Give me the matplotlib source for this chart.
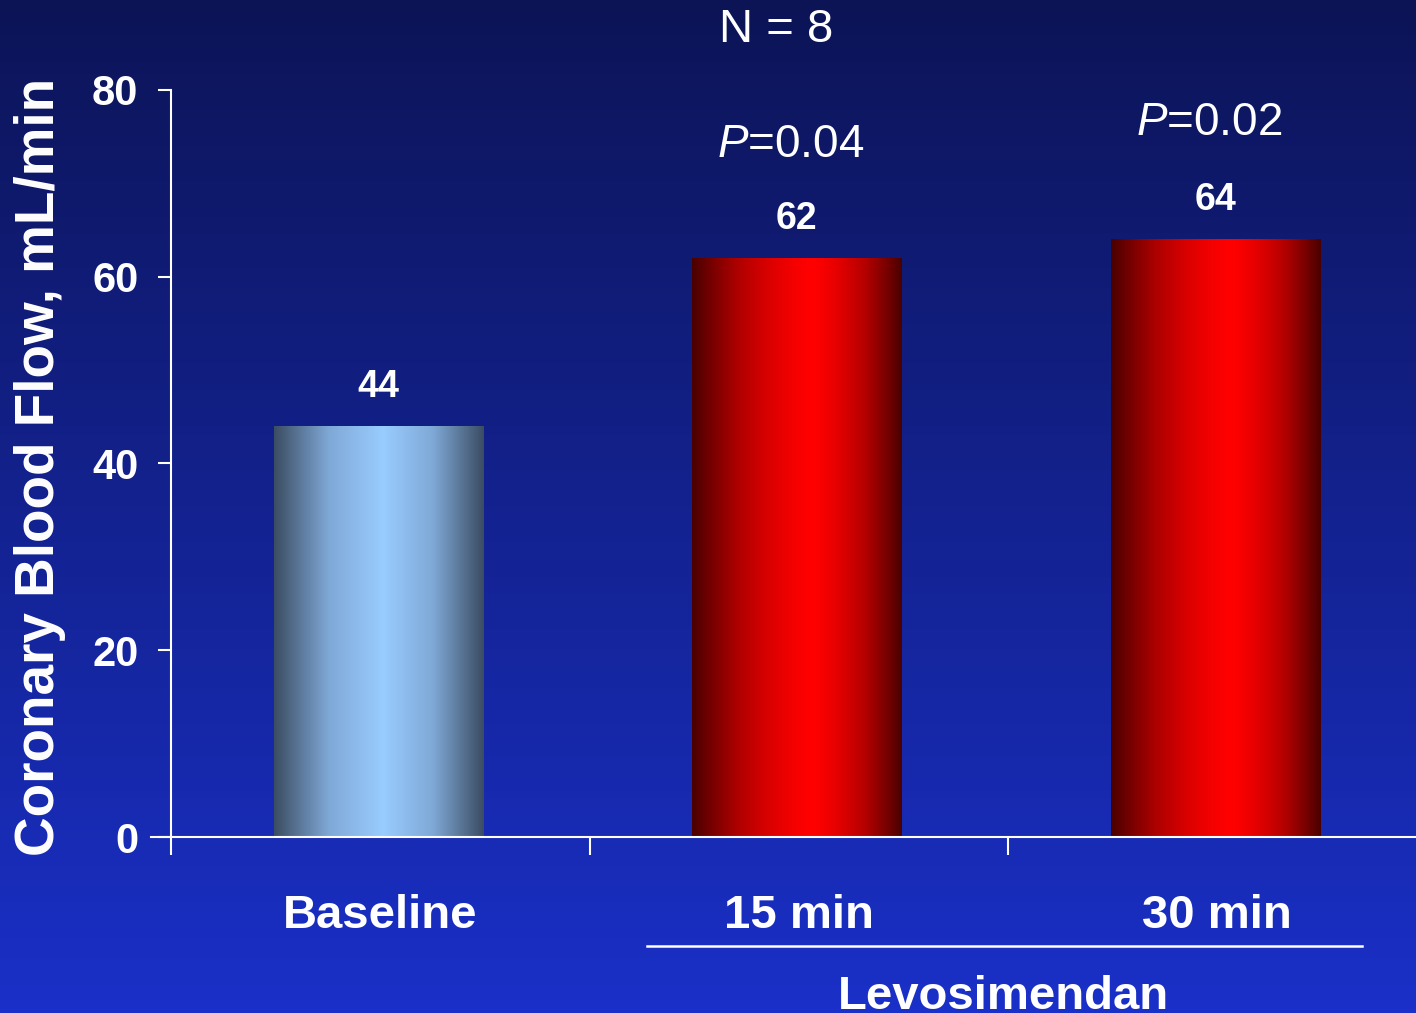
import numpy as np
import matplotlib.pyplot as plt
from matplotlib.colors import LinearSegmentedColormap
from matplotlib.lines import Line2D

plt.rcParams['font.family'] = ['Liberation Sans', 'DejaVu Sans']
plt.rcParams['mathtext.fontset'] = 'custom'
plt.rcParams['mathtext.it'] = 'Liberation Sans:italic'

categories = ['Baseline', '15 min', '30 min']
flow = [44, 62, 64]
value_labels = ['44', '62', '64']
p_values = ['0.04', '0.02']
yticks = [0, 20, 40, 60, 80]


def shade_profile(n=400, peak=0.55, power=1.0):
    # cylinder-like horizontal shading: dark at edges, bright near peak
    x = np.linspace(0, 1, n)
    d = np.where(x < peak, (peak - x) / peak, (x - peak) / (1 - peak))
    return 1 - d ** power


fig = plt.figure(figsize=(14.16, 10.13), dpi=100)

# background gradient, dark navy at the top to bright blue at the bottom
bg = fig.add_axes([0, 0, 1, 1], zorder=-10)
bg_cmap = LinearSegmentedColormap.from_list('bg', ['#1a30c8', '#0c1456'])
bg.imshow(np.linspace(0, 1, 256)[:, None] * np.ones((1, 2)), aspect='auto',
          cmap=bg_cmap, extent=[0, 1, 0, 1], origin='lower', vmin=0, vmax=1)
bg.set_axis_off()

ax = fig.add_axes([171 / 1416, 176 / 1013, 1255.5 / 1416, 747 / 1013])
ax.patch.set_visible(False)

blue_cmap = LinearSegmentedColormap.from_list('bl', ['#3b4d63', '#7fa8d6', '#99ccff'])
red_cmap = LinearSegmentedColormap.from_list('rd', ['#4a0000', '#b00000', '#ff0000'])

width = 0.5
x = np.arange(len(categories)) - 0.005
bars = ax.bar(x, flow, width=width, color='none', edgecolor='none')
for i, (b, v) in enumerate(zip(bars, flow)):
    cmap = blue_cmap if i == 0 else red_cmap
    peak = 0.52 if i == 0 else 0.57
    power = 1.0 if i == 0 else 1.4
    grad = shade_profile(peak=peak, power=power)[None, :]
    x0 = b.get_x()
    ax.imshow(grad, aspect='auto', cmap=cmap, vmin=0, vmax=1,
              extent=[x0, x0 + width, 0, v], origin='lower', zorder=2)
    ax.text(b.get_x() + width / 2, v + 4.2, value_labels[i], ha='center', va='center',
            color='white', fontsize=27, fontweight='bold')

ax.set_xlim(-0.5, 2.5)
ax.set_ylim(0, 80)
ax.set_yticks(yticks)
ax.set_yticklabels([str(t) for t in yticks], fontsize=30, fontweight='bold', color='white')
ax.set_xticks(np.arange(len(categories)))
ax.set_xticklabels(categories, fontsize=34, fontweight='bold', color='white')
ax.set_xticks([-0.5, 0.5, 1.5], minor=True)
ax.tick_params(axis='x', which='major', length=0, pad=41)
ax.tick_params(axis='x', which='minor', length=13, width=1.5, color='white')
ax.tick_params(axis='y', length=9.5, width=1.5, color='white', pad=14)

for side in ['top', 'right']:
    ax.spines[side].set_visible(False)
for side in ['left', 'bottom']:
    ax.spines[side].set_color('white')
    ax.spines[side].set_linewidth(1.5)
    ax.spines[side].set_zorder(3)

# baseline stub reaching past the y axis
ax.add_line(Line2D([-20 / 1255.5, 0], [0, 0], transform=ax.transAxes,
                   color='white', lw=1.5, clip_on=False))

ax.set_ylabel('Coronary Blood Flow, mL/min', fontsize=39.5, fontweight='bold',
              color='white')
ax.yaxis.set_label_coords(-105 / 1255.5, 0.495)

# annotations
fig.text(776 / 1416, 1 - 30 / 1013, 'N = 8', ha='center', va='center',
         color='white', fontsize=34)
ax.text(0.98, flow[1] + 12.1, r'$\mathit{P}$=' + p_values[0], ha='center', va='center',
        color='white', fontsize=33)
ax.text(1.98, flow[2] + 12.5, r'$\mathit{P}$=' + p_values[1], ha='center', va='center',
        color='white', fontsize=33)

# group bracket for the treatment arms
fig.add_artist(Line2D([647 / 1416, 1362 / 1416], [1 - 946 / 1013] * 2,
                      color='white', lw=1.8))
fig.text(1003 / 1416, 1 - 997 / 1013, 'Levosimendan', ha='center', va='center',
         color='white', fontsize=34, fontweight='bold')

fig.savefig('out.png', dpi=100)
